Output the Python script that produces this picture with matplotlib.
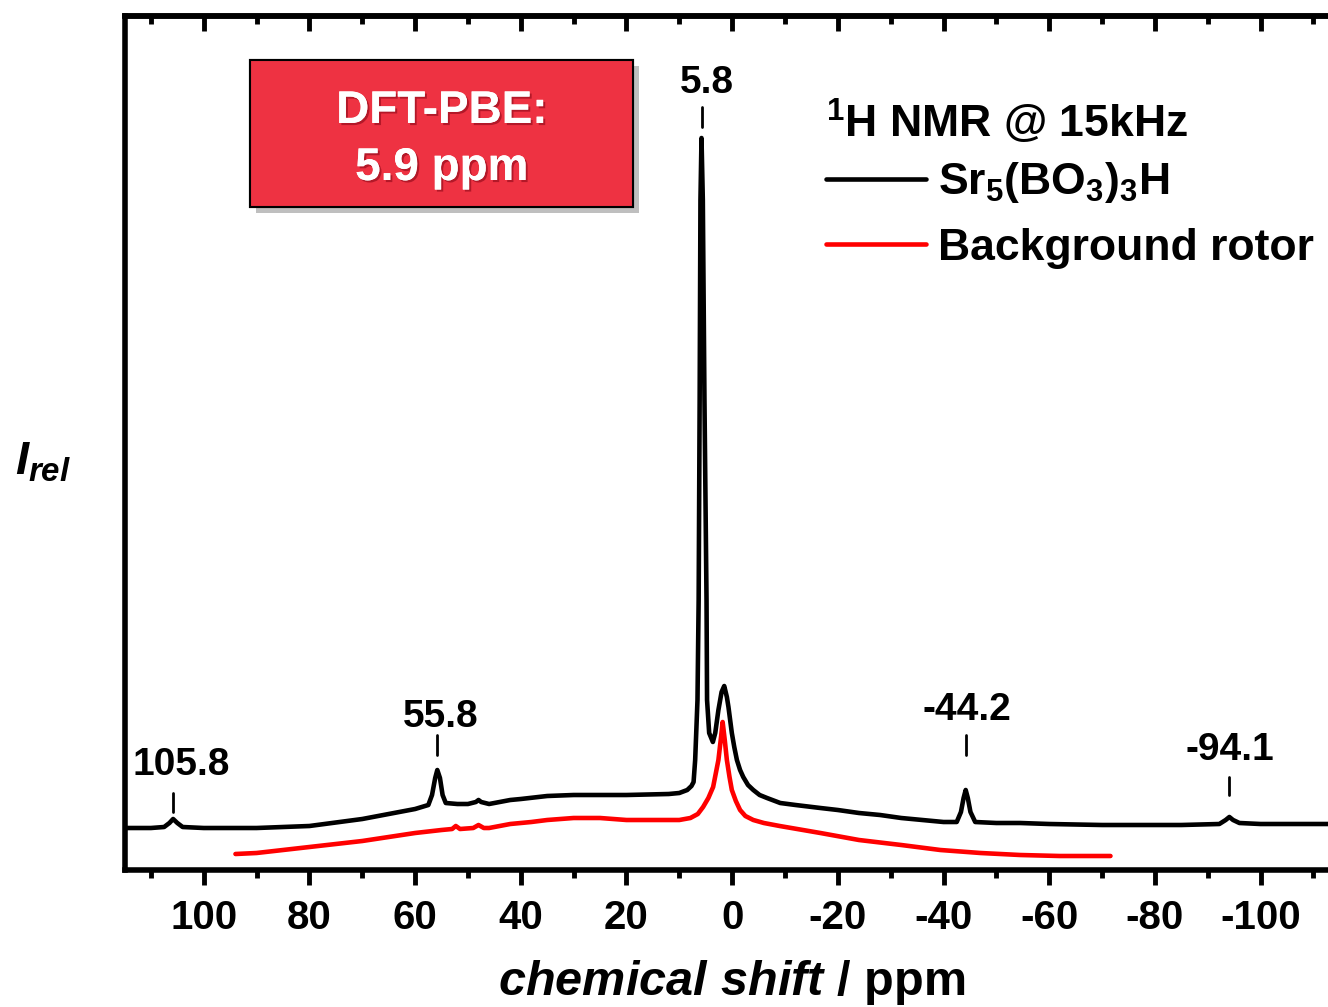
import matplotlib
matplotlib.use('Agg')
import matplotlib.pyplot as plt
import matplotlib.patches as mpatches
import matplotlib.patheffects as pe
from matplotlib.ticker import MultipleLocator, NullLocator

# ---------------- data ----------------
black_ppm = [115, 110, 107.5, 106.5, 105.8, 105, 104, 100, 90, 80, 70, 65, 60,
             57.5, 56.8, 56.2, 55.8, 55.3, 54.8, 54.2, 52, 50, 48.5, 48, 47.5,
             46, 44, 42, 40, 35, 30, 20, 12, 10, 8.5, 7.7, 7.3, 7.0, 6.8, 6.56,
             6.34, 6.15, 6.0, 5.8, 5.55, 5.24, 4.85, 4.75, 4.35, 3.65, 3.2, 2.6,
             2.0, 1.5, 1.0, 0.7, 0.06, -0.4, -0.9, -1.5, -2.1, -3.0, -4.0, -5.2,
             -6.6, -9.1, -12, -16.7,
             -20, -24, -28, -32, -36, -40, -42.5, -43.3, -43.8, -44.2, -44.6,
             -45.1, -46, -50, -54.5, -60, -70, -85, -92.2, -93.4, -94.1, -94.8,
             -96, -100, -110, -115]
black_int = [42, 42, 43, 47, 51, 47, 43, 42, 42, 44, 51, 56, 61,
             65, 75, 92, 100, 92, 75, 67, 66, 66, 68, 70, 68,
             66, 68, 70, 71, 74, 75, 75, 76, 77, 80, 84, 88, 110, 137, 170,
             270, 470, 670, 732, 670, 470, 270, 170, 137, 128, 137, 160,
             178, 184, 173, 163, 137, 123, 110, 100, 93, 85, 80, 75,
             72, 67, 65, 62,
             60, 57, 55, 52, 50, 48, 48, 58, 72, 80, 72,
             58, 48, 47, 47, 46, 45, 45, 46, 50, 53, 50,
             47, 46, 46, 46]

red_ppm = [94, 90, 80, 70, 60, 55, 53, 52.3, 51.5, 49, 48, 47, 46, 44, 42, 38,
           35, 30, 25, 20, 15, 10, 7.9, 6.5, 5.5, 4.5, 3.6, 2.6, 2.1, 1.8, 1.4,
           1.0, 0.5, 0.06, -0.7, -1.5, -2.5, -4.0, -6.0, -9, -16.7, -24, -32,
           -39.4, -47, -54.5, -62, -71.6]
red_int = [16, 17, 23, 29, 37, 40, 41, 44, 41, 42, 45, 42, 42, 44, 46, 48,
           50, 52, 52, 50, 50, 50, 52, 56, 63, 72, 83, 110, 133, 148, 130,
           110, 93, 80, 69, 60, 54, 50, 47, 44, 37, 30, 25,
           20, 17, 15, 14, 14]

peak_ppm = [105.8, 55.8, 5.8, -44.2, -94.1]
peak_labels = ['105.8', '55.8', '5.8', '-44.2', '-94.1']

legend_title = '$^{1}$H NMR @ 15kHz'
series_labels = ['Sr$_5$(BO$_3$)$_3$H', 'Background rotor']
box_lines = ['DFT-PBE:', '5.9 ppm']

# ---------------- layout (not data) ----------------
dash_ranges = [(58, 77), (115, 135), (743, 763), (115, 135), (75, 93)]
label_base = [95, 143, 777, 150, 110]
label_dx = [-1.5, -0.7, -1.1, -0.3, -0.1]

plt.rcParams['font.family'] = ['Liberation Sans', 'DejaVu Sans']
plt.rcParams['font.weight'] = 'bold'
plt.rcParams['axes.unicode_minus'] = False
plt.rcParams['mathtext.fontset'] = 'custom'
plt.rcParams['mathtext.rm'] = 'Liberation Sans:bold'
plt.rcParams['mathtext.it'] = 'Liberation Sans:bold:italic'
plt.rcParams['mathtext.bf'] = 'Liberation Sans:bold'
plt.rcParams['mathtext.sf'] = 'Liberation Sans:bold'

W, H = 1328, 1007
fig = plt.figure(figsize=(W / 100, H / 100), dpi=100)
left_px, right_px, top_px, bot_px = 124.5, 1339.8, 16.0, 869.5
ax = fig.add_axes([left_px / W, 1 - bot_px / H, (right_px - left_px) / W,
                   (bot_px - top_px) / H])

ax.plot(black_ppm, black_int, color='black', lw=3.3, solid_capstyle='round',
        solid_joinstyle='round', label=series_labels[0])
ax.plot(red_ppm, red_int, color='#ff0000', lw=3.3, solid_capstyle='round',
        solid_joinstyle='round', label=series_labels[1])

ax.set_xlim(115, -115)
ax.set_ylim(0.5, 854)

# peak annotations
for p, lab, (d0, d1), yb, dx in zip(peak_ppm, peak_labels, dash_ranges,
                                    label_base, label_dx):
    ax.plot([p, p], [d0, d1], color='black', lw=2.0, solid_capstyle='round')
    ax.text(p + dx, yb, lab, ha='center', va='baseline', fontsize=28,
            fontweight='bold')

# spines / ticks
for s in ax.spines.values():
    s.set_linewidth(4)
ax.yaxis.set_major_locator(NullLocator())
ax.xaxis.set_major_locator(MultipleLocator(20))
ax.xaxis.set_minor_locator(MultipleLocator(10))
ax.tick_params(axis='x', which='major', direction='out', length=11, width=3.5,
               labelsize=29, pad=10)
ax.tick_params(axis='x', which='minor', direction='out', length=6, width=3.5)
sec = ax.secondary_xaxis('top')
sec.xaxis.set_major_locator(MultipleLocator(20))
sec.xaxis.set_minor_locator(MultipleLocator(10))
sec.tick_params(axis='x', which='major', direction='in', length=11, width=3.5,
                labeltop=False)
sec.tick_params(axis='x', which='minor', direction='in', length=6, width=3.5)
sec.spines['top'].set_linewidth(4)

ax.set_xlabel(r'$\mathit{chemical\ shift}$ / ppm', fontsize=35,
              fontweight='bold')
ax.xaxis.label.set_va('baseline')
ax.xaxis.set_label_coords(0.4995, (bot_px - 995) / (bot_px - top_px))

ax.set_ylabel(r'$I_{rel}$', fontsize=34, rotation=0, ha='left', va='baseline')
ax.yaxis.set_label_coords((15 - left_px) / (right_px - left_px),
                          (bot_px - 475) / (bot_px - top_px))

# legend
leg = ax.legend(title=legend_title, loc='upper left',
                bbox_to_anchor=(826 / W, 1 - 98 / H),
                bbox_transform=fig.transFigure, frameon=False, fontsize=32,
                title_fontsize=32, handlelength=2.25, handletextpad=0.27,
                labelspacing=0.5, borderpad=0, borderaxespad=0,
                alignment='left')
leg._legend_box.sep = 0.3 * 32
for t in leg.get_texts():
    t.set_fontweight('bold')
leg.get_title().set_fontweight('bold')

# red DFT box
bx0, by0, bx1, by1 = 250, 60, 633, 207
rect = mpatches.Rectangle((bx0 / W, 1 - by1 / H), (bx1 - bx0) / W,
                          (by1 - by0) / H, transform=fig.transFigure,
                          facecolor='#ee3242', edgecolor='black', lw=1.5,
                          zorder=5)
rect.set_path_effects([pe.withSimplePatchShadow(offset=(4, -4),
                                                shadow_rgbFace='0.45',
                                                alpha=0.45), pe.Normal()])
fig.patches.append(rect)
for txt, base in zip(box_lines, [123, 180]):
    fig.text(442 / W, 1 - base / H, txt, ha='center', va='baseline',
             fontsize=33, fontweight='bold', color='white', zorder=6,
             path_effects=[pe.withSimplePatchShadow(offset=(1.5, -1.5),
                                                    shadow_rgbFace='#7a0010',
                                                    alpha=0.5), pe.Normal()])

fig.savefig('out.png', dpi=100)
